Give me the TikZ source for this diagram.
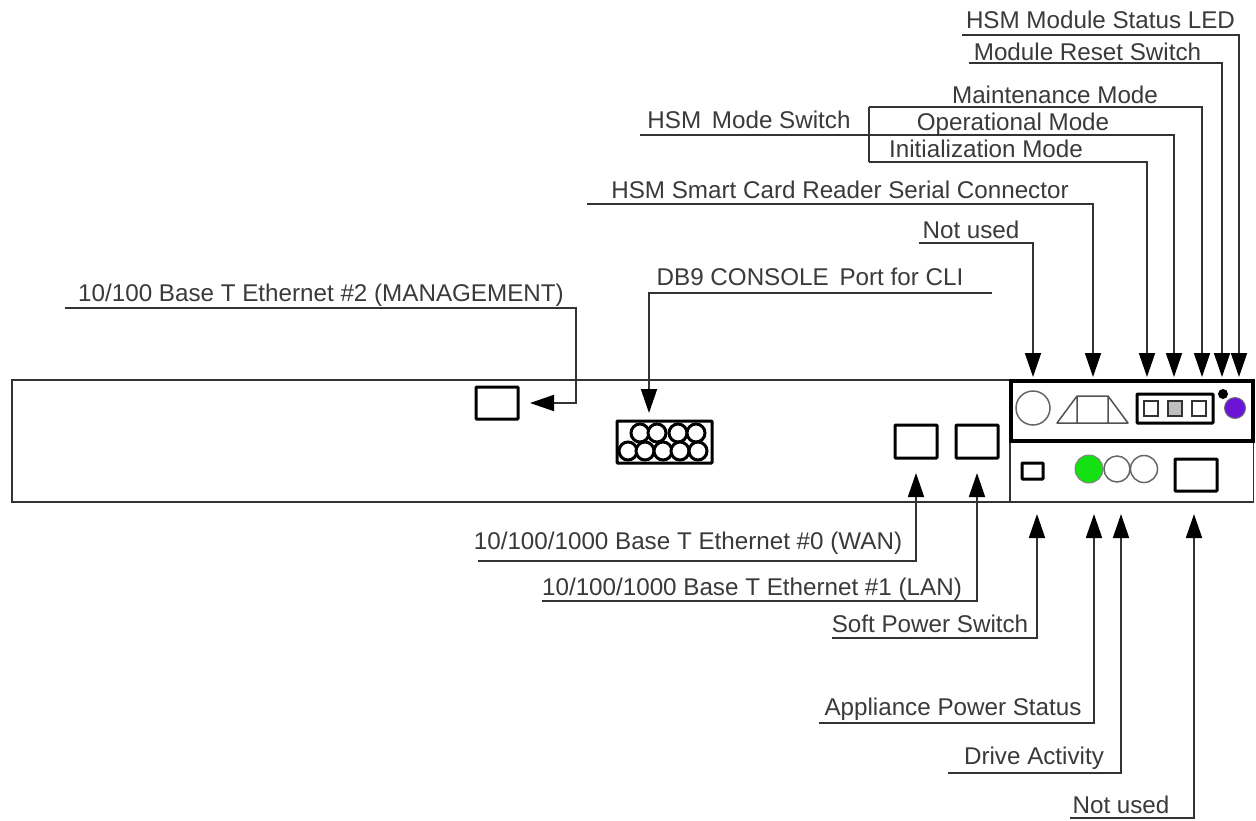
\documentclass[tikz,border=0pt]{standalone}
\usepackage{fontspec}
\setmainfont{Liberation Sans}
\usetikzlibrary{arrows.meta}
\definecolor{ink}{HTML}{333333}
\definecolor{txt}{HTML}{3A3A3A}
\definecolor{ledgreen}{HTML}{14E014}
\definecolor{ledpurple}{HTML}{6A14D8}
\tikzset{
  lbl/.style={font=\fontsize{24.2}{28}\selectfont, text=txt, inner sep=0pt, text height=18pt, text depth=5pt, yshift=-2.25pt},
  lead/.style={draw=ink, line width=1.8pt, -{Triangle[length=24pt,width=16pt,color=black]}},
  plainlead/.style={draw=ink, line width=1.8pt},
  portbox/.style={draw=black, line width=3pt, fill=white, inner sep=0pt, rounded corners=0.8pt},
  thin outline/.style={draw=ink, line width=1.5pt},
  swbox/.style={draw=ink, line width=2pt, inner sep=0pt, minimum width=14pt, minimum height=15pt},
  pin/.style={circle, draw=black, line width=3pt, fill=white, inner sep=0pt, minimum size=18pt},
  ring/.style={circle, draw=ink!75, line width=1.5pt, fill=white, inner sep=0pt},
}
\begin{document}
\begin{tikzpicture}[x=1pt,y=-1pt]
\useasboundingbox (0,0) rectangle (1256,820);
\fill[white] (0,0) rectangle (1256,820);

% chassis
\node[thin outline, inner sep=0pt, minimum width=998pt, minimum height=122pt] (chassis) at (511,441) {};
\node[thin outline, inner sep=0pt, minimum width=243pt, minimum height=61pt] (lowerpanel) at (1132,471.5) {};
\node[draw=black, line width=3.4pt, inner sep=0pt, minimum width=242pt, minimum height=60pt] (hsmpanel) at (1132,411) {};

% HSM panel parts
\node[ring, minimum size=34pt] (hsmcircle) at (1033,408) {};
\coordinate (tzbl) at (1057,423);
\coordinate (tzbr) at (1128,423);
\coordinate (tztl) at (1077,396);
\coordinate (tztr) at (1108,396);
\draw[thin outline, ink!85, line join=round] (tzbl) -- (tztl) -- (tztr) -- (tzbr) -- cycle (tztl) -- (tzbl -| tztl) (tztr) -- (tzbr -| tztr);
\node[portbox, minimum width=76pt, minimum height=29pt] (modeswitch) at (1175,408.5) {};
\node[swbox, fill=white] (sw1) at (1151,408.5) {};
\node[swbox, fill=black!25] (sw2) at (1175,408.5) {};
\node[swbox, fill=white] (sw3) at (1199,408.5) {};
\node[circle, fill=black, inner sep=0pt, minimum size=10pt] (resetdot) at (1223,394) {};
\node[circle, draw=ink!70, line width=1pt, fill=ledpurple, inner sep=0pt, minimum size=21pt] (statusled) at (1235,408) {};

% lower panel parts
\node[portbox, minimum width=21pt, minimum height=16pt] (softsw) at (1032.5,471) {};
\node[circle, draw=ink!60, line width=1pt, fill=ledgreen, inner sep=0pt, minimum size=28pt] (powerled) at (1089,469) {};
\node[ring, minimum size=26pt] (driveled) at (1117,469) {};
\node[ring, minimum size=27pt] (unusedled) at (1144,469) {};
\node[portbox, minimum width=42pt, minimum height=32pt] (usbport) at (1196,475) {};

% ports on the chassis
\node[portbox, minimum width=42pt, minimum height=32pt] (mgmt) at (497,403) {};
\node[portbox, minimum width=42pt, minimum height=33pt] (wan) at (916,441.5) {};
\node[portbox, minimum width=42pt, minimum height=33pt] (lan) at (977,441.5) {};
\node[portbox, minimum width=95pt, minimum height=42pt] (db9) at (664.5,442) {};
\foreach \n/\px in {a/640,b/657,c/678,d/696}
  \node[pin] (pt\n) at (\px,433) {};
\foreach \n/\px in {a/628,b/645,c/663,d/680,e/698}
  \node[pin] (pb\n) at (\px,451) {};

% labels
\node[lbl] (tled) at (1100.5,20) {HSM Module Status LED};
\node[lbl] (treset) at (1087.5,52) {Module Reset Switch};
\node[lbl] (tmaint) at (1055,95) {Maintenance Mode};
\node[lbl] (toper) at (1013,122) {Operational Mode};
\node[lbl] (tinit) at (986,149) {Initialization Mode};
\node[lbl] (tmode) at (749,120) {HSM\, Mode Switch};
\node[lbl] (tcard) at (840,190) {HSM Smart Card Reader Serial Connector};
\node[lbl] (tnu1) at (971,230) {Not used};
\node[lbl] (tdb9) at (810,277) {DB9 CONSOLE\, Port for CLI};
\node[lbl] (teth2) at (321,293) {10/100 Base T Ethernet \#2 (MANAGEMENT)};
\node[lbl] (teth0) at (688,541) {10/100/1000 Base T Ethernet \#0 (WAN)};
\node[lbl] (teth1) at (752,587) {10/100/1000 Base T Ethernet \#1 (LAN)};
\node[lbl] (tsoft) at (930,624) {Soft Power Switch};
\node[lbl] (tpower) at (953,707) {Appliance Power Status};
\node[lbl] (tdrive) at (1034,756) {Drive Activity};
\node[lbl] (tnu2) at (1121,805) {Not used};

% free ends of the leaders
\coordinate (sled) at (962,35);   \coordinate (eled) at (1239,377);
\coordinate (sreset) at (969,63); \coordinate (ereset) at (1222,377);
\coordinate (smaint) at (869,107); \coordinate (emaint) at (1202,377);
\coordinate (soper) at (869,135);  \coordinate (eoper) at (1174,377);
\coordinate (sinit) at (869,162);  \coordinate (einit) at (1147,377);
\coordinate (smode) at (640,135);
\coordinate (scard) at (587,204);  \coordinate (ecard) at (1093,377);
\coordinate (snu1) at (919,243);   \coordinate (enu1) at (1033,377);
\coordinate (sdb9) at (992,293);   \coordinate (edb9) at (649,413);
\coordinate (seth2) at (65,308);   \coordinate (meth2) at (576,403); \coordinate (eeth2) at (530,403);
\coordinate (seth0) at (478,561);  \coordinate (eeth0) at (916,473);
\coordinate (seth1) at (542,601);  \coordinate (eeth1) at (977,473);
\coordinate (ssoft) at (832,638);  \coordinate (esoft) at (1037,514);
\coordinate (spower) at (819,723); \coordinate (epower) at (1094,514);
\coordinate (sdrive) at (948,773); \coordinate (edrive) at (1121,514);
\coordinate (snu2) at (1070,818);  \coordinate (enu2) at (1194,514);

% leaders
\draw[lead] (sled) -| (eled);
\draw[lead] (sreset) -| (ereset);
\draw[lead] (smaint) -| (emaint);
\draw[lead] (soper) -| (eoper);
\draw[lead] (sinit) -| (einit);
\draw[plainlead] (smaint) -- (sinit);
\draw[plainlead] (smode) -- (soper);
\draw[lead] (scard) -| (ecard);
\draw[lead] (snu1) -| (enu1);
\draw[lead] (sdb9) -| (edb9);
\draw[lead] (seth2) -| (meth2) -- (eeth2);
\draw[lead] (seth0) -| (eeth0);
\draw[lead] (seth1) -| (eeth1);
\draw[lead] (ssoft) -| (esoft);
\draw[lead] (spower) -| (epower);
\draw[lead] (sdrive) -| (edrive);
\draw[lead] (snu2) -| (enu2);
\end{tikzpicture}
\end{document}
